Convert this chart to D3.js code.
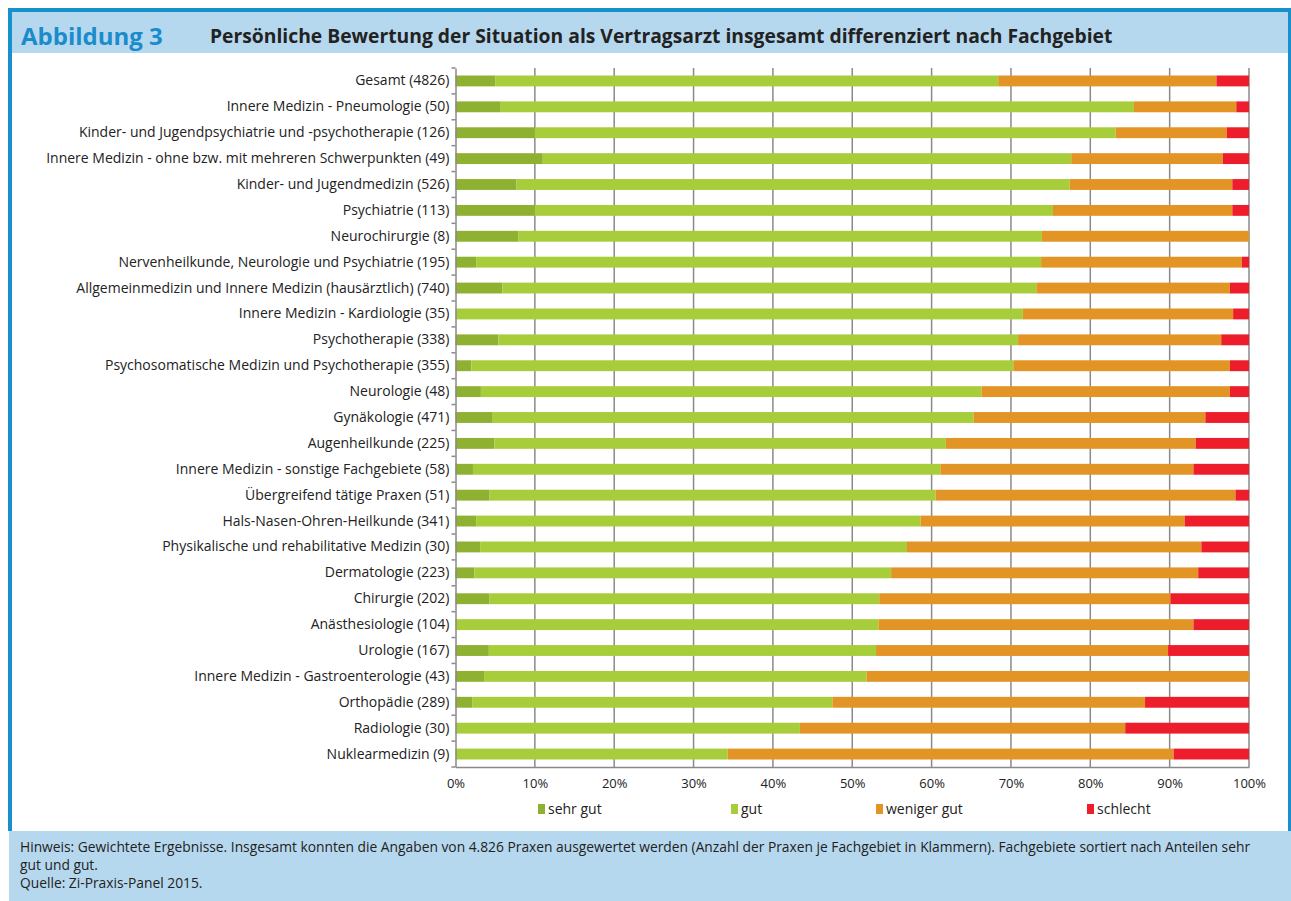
<!DOCTYPE html>
<html><head><meta charset="utf-8">
<script src="https://cdn.jsdelivr.net/npm/d3@7"></script>
<style>body{margin:0;background:#fff;} svg{display:block;}</style>
</head><body>
<svg id="c" width="1291" height="901"></svg>
<script>
const categories = [
 "Gesamt (4826)","Innere Medizin - Pneumologie (50)","Kinder- und Jugendpsychiatrie und -psychotherapie (126)",
 "Innere Medizin - ohne bzw. mit mehreren Schwerpunkten (49)","Kinder- und Jugendmedizin (526)","Psychiatrie (113)",
 "Neurochirurgie (8)","Nervenheilkunde, Neurologie und Psychiatrie (195)","Allgemeinmedizin und Innere Medizin (hausärztlich) (740)",
 "Innere Medizin - Kardiologie (35)","Psychotherapie (338)","Psychosomatische Medizin und Psychotherapie (355)",
 "Neurologie (48)","Gynäkologie (471)","Augenheilkunde (225)","Innere Medizin - sonstige Fachgebiete (58)",
 "Übergreifend tätige Praxen (51)","Hals-Nasen-Ohren-Heilkunde (341)","Physikalische und rehabilitative Medizin (30)",
 "Dermatologie (223)","Chirurgie (202)","Anästhesiologie (104)","Urologie (167)","Innere Medizin - Gastroenterologie (43)",
 "Orthopädie (289)","Radiologie (30)","Nuklearmedizin (9)"];
const sehrGut =    [5.0,5.7,10.0,11.0,7.7,10.0,7.9,2.6,5.9,0.0,5.4,2.0,3.2,4.6,4.9,2.2,4.3,2.6,3.1,2.4,4.3,0.0,4.2,3.6,2.1,0.0,0.0];
const gut =        [63.4,79.8,73.2,66.6,69.7,65.3,66.0,71.2,67.3,71.5,65.5,68.3,63.1,60.7,56.9,58.9,56.2,56.0,53.8,52.5,49.1,53.3,48.8,48.2,45.4,43.4,34.3];
const wenigerGut = [27.5,12.9,14.0,19.1,20.5,22.6,26.1,25.3,24.4,26.5,25.6,27.3,31.3,29.2,31.5,31.9,37.8,33.3,37.1,38.7,36.7,39.7,36.8,48.2,39.4,41.0,56.2];
const schlecht =   [4.1,1.6,2.8,3.3,2.1,2.1,0.0,0.9,2.4,2.0,3.5,2.4,2.4,5.5,6.7,7.0,1.7,8.1,6.0,6.4,9.9,7.0,10.2,0.0,13.1,15.6,9.5];
const seriesNames = ["sehr gut","gut","weniger gut","schlecht"];
const seriesColors = ["#8fb131","#a7ce3a","#e29525","#ee1d2c"];
const xTicks = [0,10,20,30,40,50,60,70,80,90,100];

const svg = d3.select("#c");
const font = "'Open Sans', sans-serif";

// frame
svg.append("rect").attr("x",0).attr("y",0).attr("width",1291).attr("height",901).attr("fill","#fff");
svg.append("rect").attr("x",9).attr("y",12).attr("width",1282).attr("height",41).attr("fill","#b6d8ee");
svg.append("rect").attr("x",9).attr("y",831).attr("width",1282).attr("height",70).attr("fill","#b6d8ee");
svg.append("rect").attr("x",8).attr("y",8).attr("width",1283).attr("height",4).attr("fill","#1990cc");
svg.append("rect").attr("x",8).attr("y",8).attr("width",4).attr("height",823).attr("fill","#1990cc");
svg.append("rect").attr("x",1288).attr("y",8).attr("width",3).attr("height",823).attr("fill","#1990cc");

svg.append("text").attr("x",21).attr("y",45).attr("font-family",font).attr("font-weight","bold")
  .attr("font-size",24).attr("fill","#1a8ccc").text("Abbildung 3");
svg.append("text").attr("x",210).attr("y",43).attr("font-family",font).attr("font-weight","bold")
  .attr("font-size",19.3).attr("fill","#222").text("Persönliche Bewertung der Situation als Vertragsarzt insgesamt differenziert nach Fachgebiet");

const x = d3.scaleLinear().domain([0,100]).range([455.5,1249]);
const y = d3.scaleBand().domain(categories).range([68,767]).paddingInner(0.58).paddingOuter(0.29);
const yb = d3.scaleBand().domain(categories).range([68,767]);

// gridlines
const g = svg.append("g");
g.selectAll("line.grid").data(xTicks.slice(1)).enter().append("line")
  .attr("x1",d=>x(d)).attr("x2",d=>x(d)).attr("y1",68).attr("y2",767)
  .attr("stroke","#8a8a8a").attr("stroke-width",1.5);

// stacked bars
const rows = categories.map((c,i)=>({c, v:[sehrGut[i],gut[i],wenigerGut[i],schlecht[i]]}));
const stackData = rows.map(r=>{const o={c:r.c}; seriesNames.forEach((s,j)=>o[s]=r.v[j]); return o;});
const stack = d3.stack().keys(seriesNames)(stackData);
stack.forEach((layer,j)=>{
  g.selectAll("rect.s"+j).data(layer).enter().append("rect")
    .attr("x",d=>x(d[0])).attr("width",d=>Math.max(0,x(d[1])-x(d[0])))
    .attr("y",d=>y(d.data.c)).attr("height",y.bandwidth())
    .attr("fill",seriesColors[j]);
});

// y axis
const yAxis = d3.axisLeft(yb).tickSize(0).tickPadding(6);
const ya = svg.append("g").attr("transform","translate(455.5,0)").call(yAxis);
ya.select(".domain").attr("stroke","#8a8a8a").attr("stroke-width",1.5);
ya.selectAll("text").attr("font-family",font).attr("font-size",14).attr("fill","#222");
ya.selectAll("line.bt").data(d3.range(categories.length+1)).enter().append("line")
  .attr("x1",-4).attr("x2",0).attr("y1",d=>68+d*yb.step()).attr("y2",d=>68+d*yb.step())
  .attr("stroke","#8a8a8a").attr("stroke-width",1.5);

// x axis
const xAxis = d3.axisBottom(x).tickValues(xTicks).tickFormat(d=>d+"%").tickSize(0).tickPadding(12);
const xa = svg.append("g").attr("transform","translate(0,767)").call(xAxis);
xa.select(".domain").attr("stroke","#8a8a8a").attr("stroke-width",1.5);
xa.selectAll("text").attr("font-family",font).attr("font-size",13).attr("fill","#222");

// legend
const legX = [538,731,876,1087];
const leg = svg.append("g");
seriesNames.forEach((s,j)=>{
  leg.append("rect").attr("x",legX[j]).attr("y",804).attr("width",7).attr("height",10).attr("fill",seriesColors[j]);
  leg.append("text").attr("x",legX[j]+10).attr("y",814).attr("font-family",font).attr("font-size",14).attr("fill","#222").text(s);
});

// footer
const foot = ["Hinweis: Gewichtete Ergebnisse. Insgesamt konnten die Angaben von 4.826 Praxen ausgewertet werden (Anzahl der Praxen je Fachgebiet in Klammern). Fachgebiete sortiert nach Anteilen sehr",
"gut und gut.","Quelle: Zi-Praxis-Panel 2015."];
const fy = [852,870,888];
foot.forEach((t,i)=>svg.append("text").attr("x",20).attr("y",fy[i]).attr("font-family",font).attr("font-size",13.8).attr("fill","#222").text(t));
</script>
</body></html>
